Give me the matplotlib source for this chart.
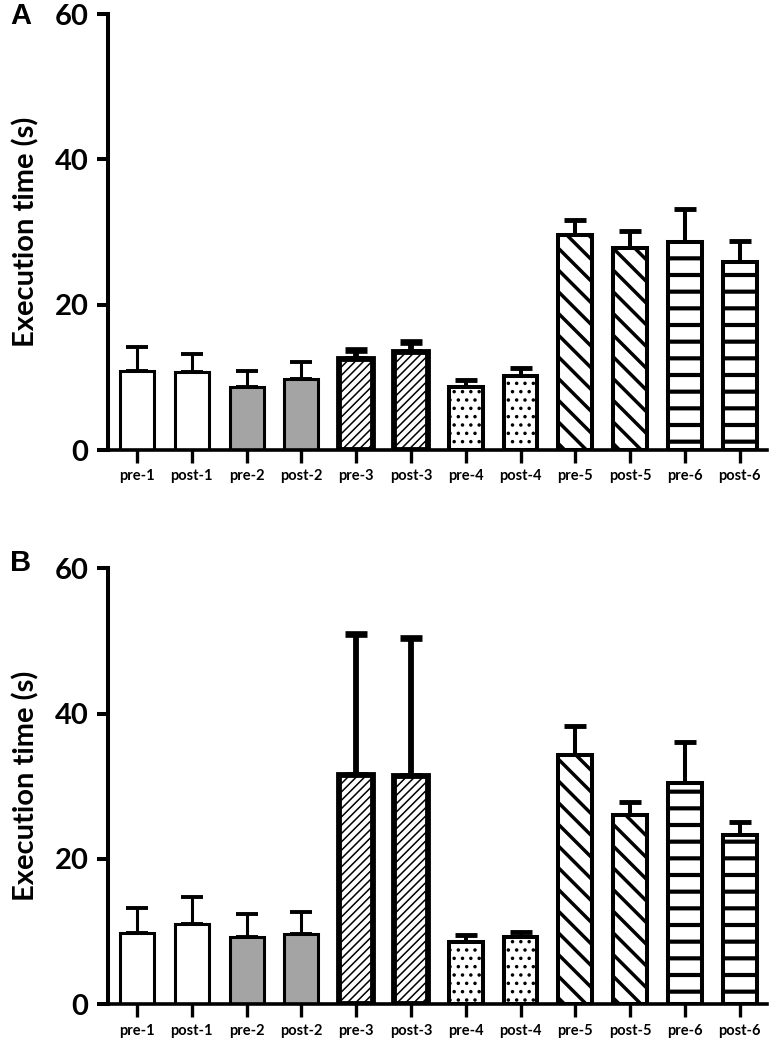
import matplotlib
matplotlib.use("Agg")
import matplotlib.pyplot as plt
import numpy as np

plt.rcParams['font.family'] = ['Lato', 'DejaVu Sans']

# data
labels = ['pre-1', 'post-1', 'pre-2', 'post-2', 'pre-3', 'post-3',
          'pre-4', 'post-4', 'pre-5', 'post-5', 'pre-6', 'post-6']
a_means = [10.9, 10.7, 8.7, 9.8, 12.5, 13.5, 8.7, 10.2, 29.6, 27.8, 28.6, 25.9]
a_err = [3.3, 2.5, 2.2, 2.3, 1.3, 1.3, 1.0, 1.1, 2.1, 2.3, 4.6, 2.9]
b_means = [9.8, 11.0, 9.3, 9.7, 31.6, 31.4, 8.6, 9.3, 34.3, 26.1, 30.4, 23.3]
b_err = [3.5, 3.7, 3.1, 3.0, 19.3, 19.0, 0.9, 0.7, 4.0, 1.7, 5.7, 1.8]

# bar styles ('diag' = wide back-diagonal stripes drawn by hand)
fills = ['white', 'white', '#a4a4a4', '#a4a4a4', 'white', 'white',
         'white', 'white', 'white', 'white', 'white', 'white']
hatches = [None, None, None, None, '////', '////', '..', '..', 'diag', 'diag', '-', '-']
hatch_lw = [1, 1, 1, 1, 1.1, 1.1, 1.3, 1.3, 2.5, 2.5, 3.0, 3.0]
edge_lw = [2.2, 2.2, 2.2, 2.2, 4.2, 4.2, 2.9, 2.9, 2.9, 2.9, 2.9, 2.9]


def diag_stripes(ax, bar, lw, step_px=21.7):
    # back-diagonal lines at 45 degrees on screen, clipped to the bar
    (x0, y0), (x1, y1) = ax.transData.transform(
        [[bar.get_x(), 0], [bar.get_x() + bar.get_width(), bar.get_height()]])
    w = x1 - x0
    inv = ax.transData.inverted()
    c = y0 + step_px * 0.3
    while c < y1 + w:
        p = inv.transform([[x0, c], [x1, c - w]])
        ln, = ax.plot(p[:, 0], p[:, 1], color='black', lw=lw,
                      solid_capstyle='butt', zorder=2.1)
        ln.set_clip_path(bar)
        c += step_px


def draw_panel(ax, means, errs):
    x = np.arange(len(labels))
    ax.set_xlim(-0.53, 11.5)
    ax.set_ylim(0, 60)
    for i in x:
        ax.errorbar(x[i], means[i], yerr=[[0], [errs[i]]], fmt='none',
                    ecolor='black', elinewidth=edge_lw[i],
                    capsize=8, capthick=edge_lw[i] + 0.6, zorder=1)
        b = ax.bar(x[i], means[i], width=0.62, color=fills[i],
                   edgecolor='black', linewidth=edge_lw[i], zorder=2)[0]
        if hatches[i] == 'diag':
            diag_stripes(ax, b, hatch_lw[i])
        elif hatches[i]:
            b.set_hatch(hatches[i])
            try:
                b.set_hatch_linewidth(hatch_lw[i])
            except AttributeError:
                pass
    ax.set_yticks([0, 20, 40, 60])
    ax.set_xticks(x)
    ax.set_xticklabels(labels, fontsize=10.5, fontweight='bold')
    for t in ax.get_yticklabels():
        t.set_fontsize(21)
        t.set_fontweight('bold')
    ax.spines['top'].set_visible(False)
    ax.spines['right'].set_visible(False)
    ax.spines['left'].set_linewidth(2.9)
    ax.spines['bottom'].set_linewidth(2.6)
    ax.tick_params(axis='y', length=8, width=2.9, pad=6)
    ax.tick_params(axis='x', length=9, width=2.4, pad=5)
    ax.set_ylabel('Execution time (s)', fontsize=21, fontweight='bold', labelpad=11)


fig = plt.figure(figsize=(7.74, 10.4), dpi=100)
axA = fig.add_axes([0.1395, 0.5673, 0.8515, 0.4192])
axB = fig.add_axes([0.1395, 0.0343, 0.8515, 0.4193])
draw_panel(axA, a_means, a_err)
draw_panel(axB, b_means, b_err)

fig.text(0.013, 0.998, 'A', fontsize=21, fontweight='bold',
         family='Liberation Sans', va='top', ha='left')
fig.text(0.013, 0.472, 'B', fontsize=21, fontweight='bold',
         family='Liberation Sans', va='top', ha='left')

fig.savefig('out.png', dpi=100)
